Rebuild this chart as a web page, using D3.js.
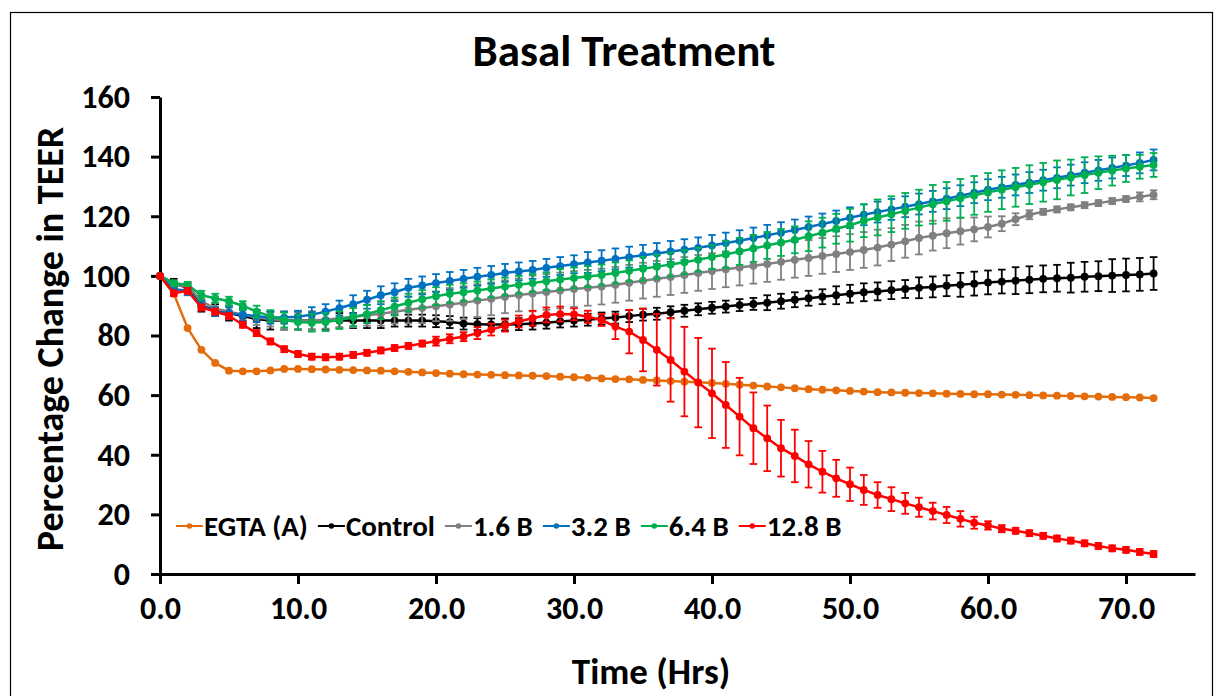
<!DOCTYPE html>
<html>
<head>
<meta charset="utf-8">
<script src="https://cdn.jsdelivr.net/npm/d3@7"></script>
<style>
  body { margin: 0; background: #fff; }
  svg text { font-family: Carlito, Calibri, Lato, sans-serif; font-weight: bold; fill: #000; }
</style>
</head>
<body>
<div id="chart"></div>
<script>
// horas de medida, 0..72
let hours = d3.range(0, 73);

let xTicks = [0, 10, 20, 30, 40, 50, 60, 70];
let yTicks = [0, 20, 40, 60, 80, 100, 120, 140, 160];

let names = ['EGTA (A)', 'Control', '1.6 B', '3.2 B', '6.4 B', '12.8 B'];
let colors = ['#E46C0A', '#000000', '#808080', '#0070C0', '#00B050', '#FF0000'];

let egta = [100, 94, 82.5, 75.2, 70.8, 68.2, 68, 68, 68.3, 68.8, 68.8, 68.7, 68.6, 68.5, 68.4, 68.3, 68.2, 68, 67.8, 67.6,
    67.4, 67.2, 67, 66.9, 66.8, 66.7, 66.6, 66.5, 66.4, 66.2, 66, 65.8, 65.6, 65.4, 65.3, 65.1, 64.9, 64.7, 64.5, 64.3,
    64.1, 63.8, 63.5, 63.2, 62.9, 62.6, 62.3, 62, 61.8, 61.6, 61.4, 61.2, 61, 60.9, 60.8, 60.7, 60.6, 60.5, 60.4, 60.3,
    60.3, 60.2, 60.1, 60, 59.9, 59.8, 59.7, 59.6, 59.5, 59.4, 59.3, 59.2, 59];

let control = [100, 97.5, 96, 90, 88.5, 87.5, 86.5, 85.5, 85, 85, 85, 85, 85, 85, 85, 85, 85, 85, 85, 85,
    84.8, 84.5, 84, 83.8, 83.7, 83.7, 83.8, 84, 84.3, 84.7, 85, 85.3, 85.7, 86, 86.5, 87, 87.3, 87.8, 88.3, 88.8,
    89.3, 89.7, 90.2, 90.6, 91, 91.5, 92, 92.5, 93, 93.5, 94, 94.5, 94.8, 95.2, 95.6, 96, 96.3, 96.7, 97, 97.4,
    97.8, 98.1, 98.4, 98.7, 99, 99.2, 99.4, 99.7, 99.9, 100.1, 100.3, 100.5, 100.8];
let controlErr = [0, 1.5, 1.5, 2, 2, 2.5, 2.5, 3, 3, 3, 3, 3, 3, 2.5, 2.5, 2.5, 2.5, 2, 2, 2,
    2, 2, 2, 2, 2, 2, 2, 2, 2, 2, 2, 2, 2, 2, 2, 2, 2, 2, 2, 2,
    2, 2, 2, 2, 2.5, 2.5, 2.5, 2.5, 2.5, 3, 3, 3, 3, 3, 3, 3.5, 3.5, 3.5, 4, 4,
    4, 4, 4.5, 4.5, 4.5, 4.5, 5, 5, 5, 5.5, 5.5, 5.5, 5.5];

let b16 = [100, 97, 96.5, 91.5, 89, 88, 87, 86, 85.5, 85, 85, 85, 85.3, 85.8, 86.3, 86.8, 87.3, 88, 88.6, 89.2,
    89.8, 90.4, 91, 91.7, 92.3, 93, 93.6, 94.1, 94.6, 95.1, 95.6, 96, 96.4, 97, 97.7, 98.4, 99, 99.6, 100.3, 101,
    101.6, 102.2, 102.8, 103.4, 104, 104.7, 105.4, 106, 106.7, 107.3, 108, 108.7, 109.5, 110.5, 111.6, 112.7, 113.5, 114.3, 115, 115.6,
    116.4, 117.5, 119, 120.5, 121.5, 122.3, 123, 123.7, 124.4, 125.1, 125.8, 126.5, 127.2];
let b16Err = [0, 1, 1.5, 2, 2, 2, 2, 2.5, 2.5, 3, 3, 3, 3, 3, 3.5, 3.5, 4, 4, 4.5, 5,
    5, 5.5, 5.5, 5.5, 5.5, 5.5, 5.5, 6, 6, 6, 6, 6, 6, 6, 6, 6, 6, 6, 6, 6,
    6, 6, 6, 6, 6, 6, 6, 6, 6, 6, 6, 6, 6, 5.5, 5.5, 5.5, 5, 5, 4.5, 4,
    3.5, 2.5, 2, 1.5, 1, 1, 1, 1, 1, 1, 1, 1.5, 1.5];

let b32 = [100, 95.5, 95, 90, 88, 87.5, 87, 86.5, 86, 86, 86.3, 87, 88, 89.2, 90.5, 92, 93.5, 94.5, 96, 96.8,
    97.6, 98.3, 99, 99.7, 100.3, 101, 101.5, 102, 102.7, 103.3, 103.9, 104.5, 105.1, 105.7, 106.3, 106.9, 107.5, 108.2, 108.8, 109.4,
    110.2, 111, 111.8, 112.7, 113.6, 114.5, 115.4, 116.4, 117.4, 118.4, 119.5, 120.5, 121.4, 122.3, 123.2, 124.1, 125, 125.9, 126.9, 127.9,
    128.9, 129.7, 130.5, 131.3, 132.1, 132.9, 133.8, 134.6, 135.4, 136.2, 137, 137.9, 138.9];
let b32Err = [0, 1, 1.5, 1.5, 1.5, 2, 2, 2, 2, 2, 2, 2.5, 2.5, 2.5, 3, 3, 3, 3, 3, 3,
    3, 3, 3, 3, 3, 3, 3, 3, 3, 3, 3, 3.5, 3.5, 3.5, 3.5, 3.5, 3.5, 3.5, 3.5, 3.5,
    3.5, 3.5, 3.5, 3.5, 3.5, 3.5, 3.5, 3.5, 3.5, 3.5, 3.5, 3.5, 3.5, 3.5, 3.5, 3.5, 3.5, 3.5, 3.5, 3.5,
    3.5, 3.5, 3.5, 3.5, 3.5, 3.5, 3.5, 3.5, 3.5, 3.5, 3.5, 3.5, 3.5];

let b64 = [100, 97.5, 97, 93.5, 92.5, 91.5, 90, 88, 86.5, 85.2, 84.5, 84.3, 84.5, 85.2, 86.2, 87.2, 88.5, 89.7, 91, 92.2,
    93.2, 94, 94.5, 95.1, 95.8, 96.4, 97, 97.6, 98.2, 98.8, 99.3, 99.8, 100.3, 101, 101.7, 102.4, 103.1, 103.8, 104.6, 105.4,
    106.3, 107.2, 108.2, 109.2, 110.2, 111.2, 112.1, 113.3, 114.5, 115.8, 117, 118.5, 119.6, 120.7, 121.8, 122.9, 124, 125, 126, 127,
    128, 128.9, 129.7, 130.6, 131.4, 132.2, 133, 133.8, 134.6, 135.3, 136, 136.6, 137.2];
let b64Err = [0, 1, 1, 1.5, 1.5, 1.5, 1.5, 2, 2, 2.5, 2.5, 3, 3, 3, 3, 3, 3, 3, 3, 3,
    3, 3, 3, 3, 3, 3, 3, 3, 3, 3.5, 3.5, 3.5, 3.5, 3.5, 3.5, 4, 4, 4, 4, 4,
    4, 4.5, 4.5, 4.5, 4.5, 4.5, 4.5, 5, 5, 5, 5.5, 5.5, 6, 6, 6, 6, 6.5, 6.5, 6.5, 6.5,
    6.5, 6.5, 6.5, 6.5, 6.5, 6.5, 6, 6, 5.5, 5, 4.5, 4, 4];

let b128 = [100, 94.2, 95, 89.4, 88, 86.6, 83.6, 80.8, 78, 75.4, 73.8, 72.9, 72.7, 72.9, 73.5, 74.2, 75, 75.8, 76.5, 77.3,
    78.1, 78.9, 79.6, 80.8, 82, 83.3, 84.7, 85.8, 86.9, 87.2, 87.1, 86.3, 85.2, 83, 81.3, 78.5, 75.2, 71.8, 67.9, 64.2,
    60.6, 56.7, 52.8, 48.9, 45.5, 42.2, 39.6, 36.8, 34.3, 32.1, 30.1, 28.2, 26.5, 25.1, 23.7, 22.4, 21.1, 19.8, 18.5, 17.2,
    16.3, 15.2, 14.5, 13.7, 12.8, 11.9, 11.2, 10.3, 9.4, 8.6, 8.1, 7.4, 6.7];
let b128Err = [0, 1, 1, 1, 1, 1, 1, 1, 1, 1, 1, 1, 1, 1, 1, 1, 1, 1, 1, 1,
    1.5, 1.5, 1.5, 2, 2, 2, 2, 2.5, 2.5, 2.5, 2, 2, 2, 4.2, 7.3, 10.5, 12, 14, 15, 15,
    15, 14.4, 13, 12, 11, 9.5, 8.8, 7.8, 7, 6.2, 5.6, 5, 4.3, 4, 3.5, 3.2, 2.8, 2.7, 2.6, 2,
    1.4, 1.2, 1, 1, 1, 1, 1, 1, 1, 1, 1, 1, 1];

let seriesValues = [egta, control, b16, b32, b64, b128];
let seriesErrors = [null, controlErr, b16Err, b32Err, b64Err, b128Err];

let width = 1226, height = 696;

let svg = d3.select('#chart').append('svg')
    .attr('width', width)
    .attr('height', height);

// marco exterior
svg.append('rect')
    .attr('x', 10.5).attr('y', 12.5)
    .attr('width', 1202).attr('height', 700)
    .attr('fill', 'none')
    .attr('stroke', '#000')
    .attr('stroke-width', 1.2);

let x = d3.scaleLinear().domain([0, 75]).range([160, 1195]);
let y = d3.scaleLinear().domain([0, 160]).range([574, 97]);

svg.append('text')
    .attr('x', 624).attr('y', 66)
    .attr('text-anchor', 'middle')
    .style('font-size', '45px')
    .text('Basal Treatment');

// ejes
let xAxis = svg.append('g')
    .attr('transform', 'translate(0,' + y(0) + ')')
    .call(d3.axisBottom(x).tickValues(xTicks).tickSize(10).tickSizeOuter(0).tickFormat(d3.format('.1f')));
xAxis.selectAll('text').attr('y', 45).attr('dy', null).style('font-size', '32px');

let yAxis = svg.append('g')
    .attr('transform', 'translate(' + x(0) + ',0)')
    .call(d3.axisLeft(y).tickValues(yTicks).tickSize(9).tickSizeOuter(0).tickPadding(21));
yAxis.selectAll('text').style('font-size', '32px');

svg.selectAll('.domain, .tick line').attr('stroke', '#000').attr('stroke-width', 3);

svg.append('text')
    .attr('x', 651).attr('y', 684)
    .attr('text-anchor', 'middle')
    .style('font-size', '37px')
    .text('Time (Hrs)');

svg.append('text')
    .attr('transform', 'translate(63,339) rotate(-90)')
    .attr('text-anchor', 'middle')
    .style('font-size', '38px')
    .text('Percentage Change in TEER');

let line = d3.line()
    .x((d, i) => x(hours[i]))
    .y(d => y(d));

// una capa por serie, en el orden de Excel
seriesValues.forEach(function (vals, k) {
    let g = svg.append('g').attr('class', 'serie');
    let errs = seriesErrors[k];
    if (errs) {
        let eb = g.selectAll('.eb')
            .data(vals)
            .join('g')
            .attr('class', 'eb')
            .attr('stroke', colors[k])
            .attr('stroke-width', 1.8);
        eb.append('line')
            .attr('x1', (d, i) => x(hours[i])).attr('x2', (d, i) => x(hours[i]))
            .attr('y1', (d, i) => y(d + errs[i])).attr('y2', (d, i) => y(d - errs[i]));
        eb.append('line')
            .attr('x1', (d, i) => x(hours[i]) - 3.8).attr('x2', (d, i) => x(hours[i]) + 3.8)
            .attr('y1', (d, i) => y(d + errs[i])).attr('y2', (d, i) => y(d + errs[i]));
        eb.append('line')
            .attr('x1', (d, i) => x(hours[i]) - 3.8).attr('x2', (d, i) => x(hours[i]) + 3.8)
            .attr('y1', (d, i) => y(d - errs[i])).attr('y2', (d, i) => y(d - errs[i]));
    }
    g.append('path')
        .datum(vals)
        .attr('d', line)
        .attr('fill', 'none')
        .attr('stroke', colors[k])
        .attr('stroke-width', 2.5);
    g.selectAll('circle')
        .data(vals)
        .join('circle')
        .attr('cx', (d, i) => x(hours[i]))
        .attr('cy', d => y(d))
        .attr('r', 3.9)
        .attr('fill', colors[k]);
});

// leyenda
let legend = svg.append('g').attr('transform', 'translate(176,526)');
let lx = 0;
names.forEach(function (n, k) {
    let item = legend.append('g').attr('transform', 'translate(' + lx + ',0)');
    item.append('line')
        .attr('x1', 0).attr('x2', 27)
        .attr('stroke', colors[k]).attr('stroke-width', 2);
    item.append('circle')
        .attr('cx', 13.5).attr('r', 2.8)
        .attr('fill', colors[k]);
    let t = item.append('text')
        .attr('x', 28).attr('y', 0).attr('dy', '0.35em')
        .style('font-size', '29px')
        .text(n);
    lx += 28 + t.node().getComputedTextLength() + 10;
});
</script>
</body>
</html>
